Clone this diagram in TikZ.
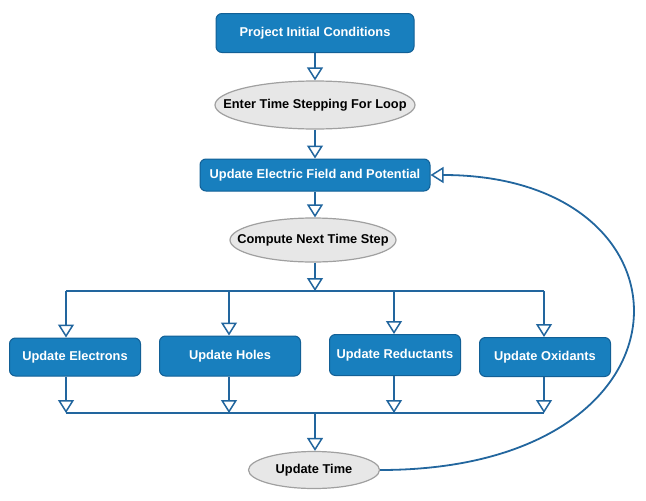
\documentclass[tikz,border=0pt]{standalone}
\usepackage{fontspec}
\setmainfont{Liberation Sans}
\usetikzlibrary{arrows.meta,shapes.geometric}
\definecolor{boxblue}{RGB}{24,127,190}
\definecolor{boxedge}{RGB}{18,96,150}
\definecolor{flowblue}{RGB}{34,102,158}
\definecolor{ellgray}{RGB}{231,231,231}
\definecolor{elledge}{RGB}{160,160,160}
\newcommand{\elltext}[1]{\makebox[0pt]{#1}}
\tikzset{
  stepbox/.style={draw=boxedge, fill=boxblue, line width=1pt, rounded corners=6pt,
    text=white, font=\fontsize{12.8}{14}\selectfont\bfseries, inner sep=0pt},
  loopell/.style={ellipse, draw=elledge, fill=ellgray, line width=1.2pt,
    font=\fontsize{12.8}{14}\selectfont\bfseries, inner sep=0pt},
  bus/.style={flowblue, line width=1.8pt},
  flow/.style={bus, -{Triangle[width=16pt,length=13pt,fill=white,line width=1.5pt]}},
}

\begin{document}
\begin{tikzpicture}[x=1pt,y=-1pt]
  \useasboundingbox (0,0) rectangle (646,501);

  % main column
  \node[stepbox, minimum width=198pt, minimum height=39pt] (pic) at (315,33) {Project Initial Conditions};
  \node[loopell, minimum width=200pt, minimum height=48pt] (ents) at (315,105) {\elltext{Enter Time Stepping For Loop}};
  \node[stepbox, minimum width=230pt, minimum height=32pt] (efp) at (315,175) {Update Electric Field and Potential};
  \node[loopell, minimum width=166pt, minimum height=44pt] (cnts) at (313,240) {\elltext{Compute Next Time Step}};

  % the four updates
  \node[stepbox, minimum width=131pt, minimum height=38pt] (elec) at (75,357) {Update Electrons};
  \node[stepbox, minimum width=141pt, minimum height=40pt] (hole) at (230,356) {Update Holes};
  \node[stepbox, minimum width=131pt, minimum height=41pt] (redu) at (395,355) {Update Reductants};
  \node[stepbox, minimum width=131pt, minimum height=39pt] (oxid) at (545,357) {Update Oxidants};

  \node[loopell, minimum width=131pt, minimum height=37pt] (ut) at (314,470) {\elltext{Update Time}};

  % bus points
  \coordinate (top) at (315,291);
  \coordinate (b1) at (66,291);
  \coordinate (b2) at (229,291);
  \coordinate (b3) at (394,291);
  \coordinate (b4) at (544,291);
  \coordinate (c1) at (66,413);
  \coordinate (c2) at (229,413);
  \coordinate (c3) at (394,413);
  \coordinate (c4) at (544,413);
  \coordinate (bot) at (315,413);

  \draw[flow] (pic) -- (ents);
  \draw[flow] (ents) -- (efp);
  \draw[flow] (efp.south) -- (efp.south |- cnts.north);
  \draw[flow] (top |- cnts.south) -- (top);
  \draw[bus] (b1) -- (b4);
  \foreach \b/\n in {b1/elec,b2/hole,b3/redu,b4/oxid}
    \draw[flow] (\b) -- (\b |- \n.north);
  \foreach \c/\n in {c1/elec,c2/hole,c3/redu,c4/oxid}
    \draw[flow] (\c |- \n.south) -- (\c);
  \draw[bus] (c1) -- (c4);
  \draw[flow] (bot) -- (bot |- ut.north);

  % back to the field update
  \draw[flow] (ut.east) .. controls +(328,0) and +(276,0) .. (efp.east);
\end{tikzpicture}
\end{document}
